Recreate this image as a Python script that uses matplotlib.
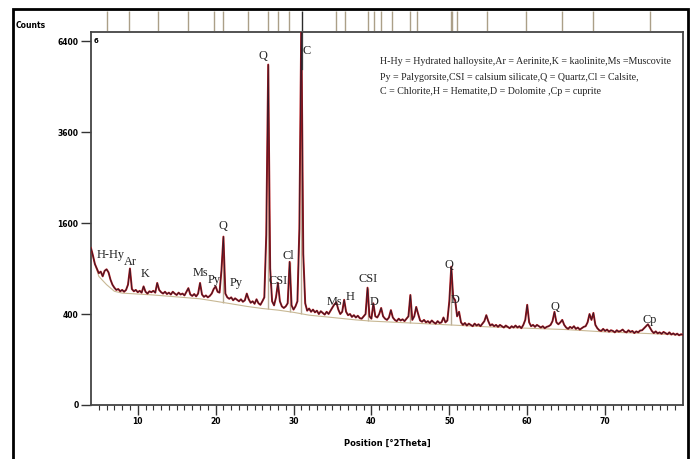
import numpy as np
import matplotlib
matplotlib.use('Agg')
import matplotlib.pyplot as plt
from matplotlib.patches import Rectangle

# Scan intensities, 0.25 deg step from 4 to 80 deg 2theta (one row per degree)
counts = [
    1190, 1080, 960, 900,
    840, 860, 800, 870,
    890, 850, 760, 700,
    665, 640, 650, 625,
    640, 620, 640, 700,
    900, 650, 625, 640,
    615, 630, 610, 680,
    620, 600, 625, 615,
    630, 610, 720, 640,
    615, 600, 620, 595,
    610, 590, 620, 600,
    585, 610, 590, 600,
    580, 620, 660, 590,
    575, 595, 570, 600,
    720, 590, 565, 580,
    560, 575, 600, 650,
    680, 620, 610, 880,
    1370, 600, 560, 545,
    560, 530, 550, 535,
    520, 540, 515, 530,
    600, 540, 505, 520,
    495, 540, 500, 485,
    520, 560, 1400, 5600,
    900, 520, 480, 560,
    720, 520, 470, 455,
    470, 500, 990, 480,
    440, 470, 520, 1500,
    7200, 1100, 500, 430,
    450, 420, 440, 415,
    430, 400, 425, 410,
    395, 420, 400, 430,
    460, 490, 510, 440,
    400, 420, 535, 420,
    390, 400, 375, 390,
    370, 385, 365, 360,
    380, 400, 665, 380,
    360, 500, 380, 370,
    400, 455, 380, 360,
    350, 370, 435, 370,
    350, 340, 360, 345,
    355, 340, 360, 380,
    585, 350, 380, 465,
    400, 345, 335, 350,
    330, 340, 325, 345,
    330, 320, 340, 325,
    330, 370, 330, 345,
    520, 925, 560, 530,
    380, 420, 330, 310,
    325, 305, 320, 310,
    300, 320, 305, 315,
    300, 320, 340, 390,
    340, 305, 315, 300,
    310, 295, 310, 300,
    290, 305, 295, 285,
    300, 290, 305, 290,
    300, 285, 310, 350,
    485, 330, 300, 310,
    295, 310, 300, 290,
    300, 285, 295, 300,
    310, 340, 420, 330,
    315, 330, 350, 310,
    290, 280, 295, 285,
    300, 280, 290, 275,
    285, 295, 300, 330,
    400, 350, 410, 310,
    285, 270, 265, 280,
    265, 275, 260, 270,
    265, 255, 270, 260,
    265, 275, 260, 255,
    270, 258, 265, 250,
    262, 255, 268, 270,
    285, 300, 315, 290,
    265, 250, 262, 248,
    255, 245, 258, 250,
    242, 255, 240, 248,
    238, 246, 235, 242,
    238,
]
two_theta = 4.0 + 0.25 * np.arange(len(counts))

# fitted background
bg_theta = [4, 5, 6, 7, 8, 10, 12, 15, 18, 20, 22, 24, 26, 28, 30, 32, 35, 38,
            40, 45, 50, 55, 60, 65, 70, 75, 80]
bg_counts = [1150, 800, 700, 625, 605, 595, 585, 565, 545, 520, 495, 470, 450,
             435, 415, 390, 370, 350, 340, 325, 310, 295, 285, 275, 258, 248, 236]

# peak markers drawn in the pattern
stick_pos = [21.0, 26.75, 29.5, 31.0, 39.5, 45.0, 50.25]
stick_top = [1370, 5600, 990, 7200, 665, 585, 925]

# peak list shown in the strip above the pattern
ref_pos = [6.0, 8.9, 12.6, 16.4, 19.8, 20.9, 24.1, 26.7, 28.0, 29.4, 31.05,
           35.5, 36.6, 39.5, 40.3, 41.2, 42.6, 45.0, 45.8, 50.2, 50.35, 51.05,
           54.9, 59.9, 64.5, 68.4, 75.7]

# phase labels: text, 2theta, counts
phase_text = ['H-Hy', 'Ar', 'K', 'Ms', 'Py', 'Q', 'Py', 'Q', 'CSI', 'Cl', 'C',
              'Ms', 'H', 'CSI', 'D', 'Q', 'D', 'Q', 'Cp']
phase_x = [6.5, 9.0, 11.0, 18.1, 19.8, 20.9, 22.6, 26.1, 28.0, 29.3, 31.7,
           35.3, 37.2, 39.6, 40.4, 50.0, 50.8, 63.6, 75.7]
phase_y = [1090, 990, 830, 840, 760, 1540, 720, 5900, 740, 1070, 6050,
           510, 560, 770, 510, 950, 530, 460, 350]

legend_lines = [
    'H-Hy = Hydrated halloysite,Ar = Aerinite,K = kaolinite,Ms =Muscovite',
    'Py = Palygorsite,CSI = calsium silicate,Q = Quartz,Cl = Calsite,',
    'C = Chlorite,H = Hematite,D = Dolomite ,Cp = cuprite',
]

W, H = 694, 459
narrow = ['Liberation Sans Narrow', 'DejaVu Sans']
serif = ['Liberation Serif', 'DejaVu Serif']

fig = plt.figure(figsize=(W / 100, H / 100), dpi=100)
ax = fig.add_axes([91 / W, 1 - 405 / H, (683 - 91) / W, (405 - 32) / H])
strip = fig.add_axes([91 / W, 1 - 31 / H, (683 - 91) / W, 20 / H])

# outer border
fig.patches.append(Rectangle((13 / W, -0.05), (688 - 13) / W, 1 - 9 / H + 0.05,
                             transform=fig.transFigure, fill=False,
                             edgecolor='black', linewidth=2))

# square-root intensity axis
ax.set_yscale('function', functions=(lambda v: np.sqrt(np.clip(v, 0, None)), np.square))

ax.vlines(stick_pos, [np.interp(p, bg_theta, bg_counts) for p in stick_pos],
          stick_top, color='#b9ad98', linewidth=1.0, zorder=1)
ax.plot(bg_theta, bg_counts, color='#c8b894', linewidth=0.8, zorder=2)
ax.plot(two_theta, counts, color='#b3171b', linewidth=1.4, zorder=3)
ax.plot(two_theta, counts, color='#1a1a2e', linewidth=0.6, alpha=0.85, zorder=4)

ax.set_xlim(4, 80)
ax.set_ylim(0, 6724)
ax.set_yticks([0, 400, 1600, 3600, 6400])
ax.set_xticks(range(10, 80, 10))
ax.set_xticks(range(5, 80), minor=True)
ax.tick_params(axis='both', which='major', direction='out', length=7,
               width=1.0, color='#333333', labelsize=5.5, pad=2)
ax.tick_params(axis='x', which='minor', direction='out', length=3.5,
               width=0.8, color='#333333')
ax.tick_params(axis='y', which='minor', left=False)
for lab in ax.get_xticklabels() + ax.get_yticklabels():
    lab.set_family(narrow)
    lab.set_fontweight('bold')
for sp in ax.spines.values():
    sp.set_color('#444444')
    sp.set_linewidth(1.3)

ax.set_xlabel('Position [°2Theta]', fontsize=6, family=narrow,
              fontweight='bold', labelpad=9)
fig.text(16 / W, 1 - 26 / H, 'Counts', fontsize=5.5, family=narrow,
         fontweight='bold', va='center', ha='left')
ax.text(0.004, 0.985, '6', transform=ax.transAxes, fontsize=5, va='top',
        family=narrow, fontweight='bold')

for t, x, y in zip(phase_text, phase_x, phase_y):
    ax.text(x, y, t, fontsize=8.8, family=serif, ha='center', va='center',
            color='#222222', zorder=5)

for i, line in enumerate(legend_lines):
    fig.text(380 / W, 1 - (62 + 15 * i) / H, line, fontsize=7.2, family=serif,
             ha='left', va='center', color='#222222')

# reference peak strip
strip.vlines(ref_pos, 0, 1, colors=['#2b2b2b' if p == 31.05 else '#ab9f88' for p in ref_pos],
             linewidth=1.0)
strip.set_xlim(4, 80)
strip.set_ylim(0, 1)
strip.axis('off')
# C line runs through into the pattern
ax.axvline(31.05, ymin=0.9, ymax=1.0, color='#3a3a3a', linewidth=0.9, zorder=4)

fig.savefig('out.png', dpi=100, facecolor='white')
